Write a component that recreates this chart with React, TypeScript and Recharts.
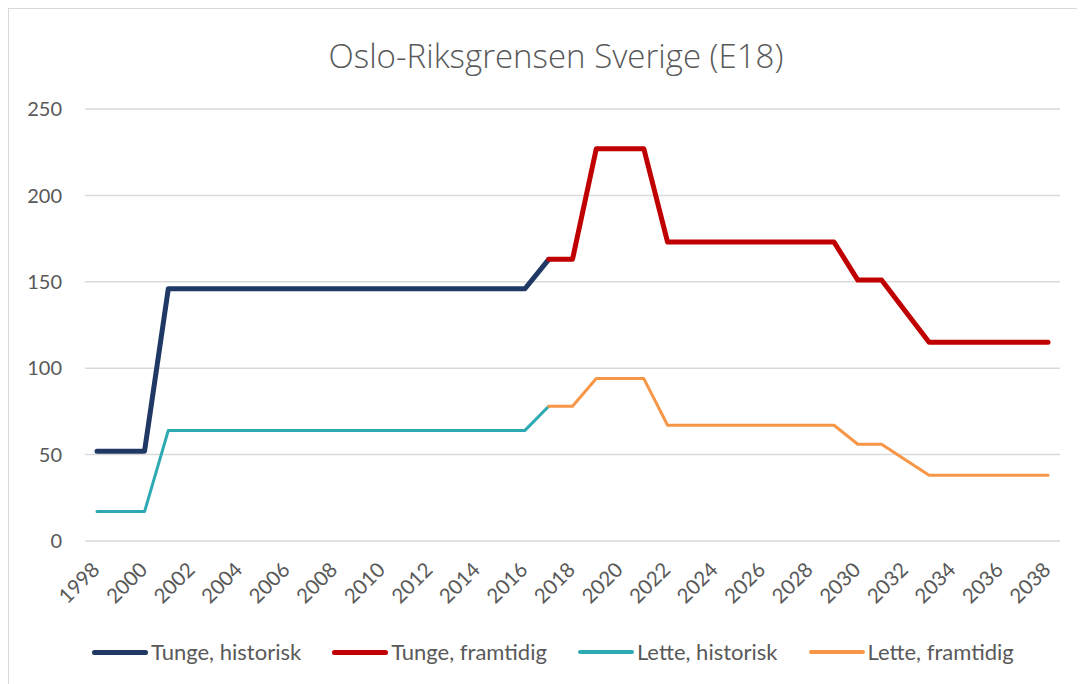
import React from "react";
import { LineChart, Line, XAxis, YAxis, CartesianGrid } from "recharts";

const years: string[] = [
  "1998", "1999", "2000", "2001", "2002", "2003", "2004", "2005", "2006", "2007",
  "2008", "2009", "2010", "2011", "2012", "2013", "2014", "2015", "2016", "2017",
  "2018", "2019", "2020", "2021", "2022", "2023", "2024", "2025", "2026", "2027",
  "2028", "2029", "2030", "2031", "2032", "2033", "2034", "2035", "2036", "2037",
  "2038",
];

const tungeHistorisk: (number | null)[] = [
  52, 52, 52, 146, 146, 146, 146, 146, 146, 146,
  146, 146, 146, 146, 146, 146, 146, 146, 146, 163,
  null, null, null, null, null, null, null, null, null, null,
  null, null, null, null, null, null, null, null, null, null,
  null,
];

const tungeFramtidig: (number | null)[] = [
  null, null, null, null, null, null, null, null, null, null,
  null, null, null, null, null, null, null, null, null, 163,
  163, 227, 227, 227, 173, 173, 173, 173, 173, 173,
  173, 173, 151, 151, 133, 115, 115, 115, 115, 115,
  115,
];

const letteHistorisk: (number | null)[] = [
  17, 17, 17, 64, 64, 64, 64, 64, 64, 64,
  64, 64, 64, 64, 64, 64, 64, 64, 64, 78,
  null, null, null, null, null, null, null, null, null, null,
  null, null, null, null, null, null, null, null, null, null,
  null,
];

const letteFramtidig: (number | null)[] = [
  null, null, null, null, null, null, null, null, null, null,
  null, null, null, null, null, null, null, null, null, 78,
  78, 94, 94, 94, 67, 67, 67, 67, 67, 67,
  67, 67, 56, 56, 47, 38, 38, 38, 38, 38,
  38,
];

const yTicks: number[] = [0, 50, 100, 150, 200, 250];

const seriesNames = {
  th: "Tunge, historisk",
  tf: "Tunge, framtidig",
  lh: "Lette, historisk",
  lf: "Lette, framtidig",
};

const colors = {
  th: "#1F3864",
  tf: "#C00000",
  lh: "#2CA9B2",
  lf: "#F79646",
};

const data = years.map((y, i) => ({
  year: y,
  th: tungeHistorisk[i],
  tf: tungeFramtidig[i],
  lh: letteHistorisk[i],
  lf: letteFramtidig[i],
}));

const FONT = "Lato, 'Open Sans', sans-serif";
const TITLE_FONT = "'Open Sans', Lato, sans-serif";
const TEXT = "#595959";

const XTick = (props: any) => {
  const { x, y, payload } = props;
  const ax = x + 4;
  const ay = y + 30;
  return (
    <text
      x={ax}
      y={ay}
      transform={`rotate(-45, ${ax}, ${ay})`}
      textAnchor="end"
      fill={TEXT}
      fontSize={20.5}
      fontFamily={FONT}
    >
      {payload.value}
    </text>
  );
};

const legendItems = [
  { key: "th", width: 5 },
  { key: "tf", width: 5 },
  { key: "lh", width: 4 },
  { key: "lf", width: 4 },
] as const;

export default function App() {
  return (
    <div
      style={{
        position: "relative",
        width: 1076,
        height: 675,
        borderTop: "1px solid #d9d9d9",
        borderLeft: "1px solid #d9d9d9",
        background: "#fff",
        fontFamily: FONT,
      }}
    >
      <div
        style={{
          position: "absolute",
          top: 24,
          left: 9,
          width: 1076,
          textAlign: "center",
          fontSize: 33,
          lineHeight: "46px",
          color: TEXT,
          fontWeight: 300,
          fontFamily: TITLE_FONT,
        }}
      >
        Oslo-Riksgrensen Sverige (E18)
      </div>
      <LineChart
        width={1076}
        height={675}
        data={data}
        margin={{ top: 100, right: 25, left: 0, bottom: 0 }}
      >
        <CartesianGrid vertical={false} stroke="#d9d9d9" strokeWidth={1.5} />
        <XAxis
          dataKey="year"
          interval={1}
          height={143}
          tickLine={false}
          axisLine={false}
          tickSize={0}
          tickMargin={0}
          padding={{ left: 12, right: 12 }}
          tick={<XTick />}
        />
        <YAxis
          width={76}
          domain={[0, 250]}
          ticks={yTicks}
          tickLine={false}
          axisLine={false}
          tickSize={0}
          tickMargin={23}
          tick={{ fill: TEXT, fontSize: 20, fontFamily: FONT }}
        />
        <Line
          type="linear"
          dataKey="th"
          name={seriesNames.th}
          stroke={colors.th}
          strokeWidth={5}
          dot={false}
          strokeLinecap="round"
          strokeLinejoin="round"
          isAnimationActive={false}
        />
        <Line
          type="linear"
          dataKey="tf"
          name={seriesNames.tf}
          stroke={colors.tf}
          strokeWidth={5}
          dot={false}
          strokeLinecap="round"
          strokeLinejoin="round"
          isAnimationActive={false}
        />
        <Line
          type="linear"
          dataKey="lh"
          name={seriesNames.lh}
          stroke={colors.lh}
          strokeWidth={3}
          dot={false}
          strokeLinecap="round"
          strokeLinejoin="round"
          isAnimationActive={false}
        />
        <Line
          type="linear"
          dataKey="lf"
          name={seriesNames.lf}
          stroke={colors.lf}
          strokeWidth={3}
          dot={false}
          strokeLinecap="round"
          strokeLinejoin="round"
          isAnimationActive={false}
        />
      </LineChart>
      <div
        style={{
          position: "absolute",
          top: 628,
          left: 0,
          width: 1076,
          height: 30,
          display: "flex",
          justifyContent: "flex-start",
          alignItems: "center",
          gap: 31,
          paddingLeft: 83,
          boxSizing: "border-box",
        }}
      >
        {legendItems.map((it) => (
          <div key={it.key} style={{ display: "flex", alignItems: "center" }}>
            <span
              style={{
                display: "inline-block",
                width: 56,
                height: it.width,
                borderRadius: 3,
                background: colors[it.key],
                marginRight: 3,
              }}
            />
            <span style={{ fontSize: 22, color: TEXT, lineHeight: "30px" }}>
              {seriesNames[it.key]}
            </span>
          </div>
        ))}
      </div>
    </div>
  );
}
